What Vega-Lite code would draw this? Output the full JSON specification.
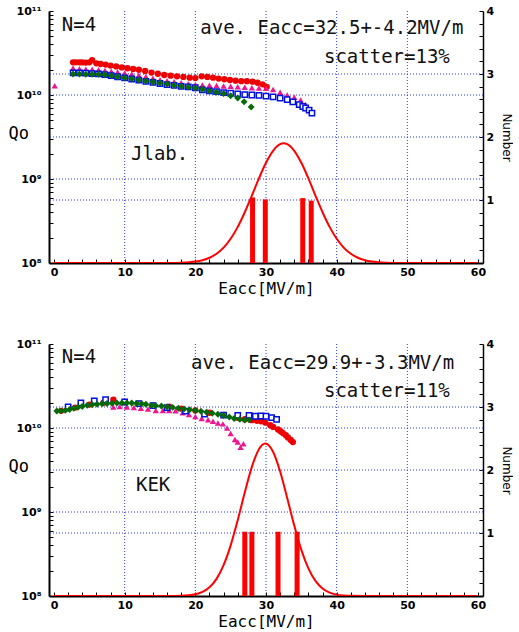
{
  "$schema": "https://vega.github.io/schema/vega-lite/v6.json",
  "background": "white",
  "padding": {"left": 8, "top": 5, "right": 0, "bottom": 0},
  "spacing": 42,
  "config": {
    "view": {"stroke": null},
    "axis": {"domainColor": "black", "tickColor": "black", "labelColor": "black", "titleColor": "black", "grid": false}
  },
  "datasets": {
    "j_r": [{"E":2.7,"Q":2.45e10},{"E":3.1,"Q":2.45e10},{"E":3.6,"Q":2.45e10},{"E":4.0,"Q":2.44e10},{"E":4.5,"Q":2.43e10},{"E":5.0,"Q":2.45e10},{"E":5.4,"Q":2.6e10},{"E":6.0,"Q":2.38e10},{"E":6.6,"Q":2.34e10},{"E":7.3,"Q":2.3e10},{"E":8.0,"Q":2.24e10},{"E":8.8,"Q":2.19e10},{"E":9.6,"Q":2.13e10},{"E":10.4,"Q":2.08e10},{"E":11.2,"Q":2.04e10},{"E":12.0,"Q":2.0e10},{"E":12.9,"Q":1.93e10},{"E":13.8,"Q":1.85e10},{"E":14.7,"Q":1.79e10},{"E":15.6,"Q":1.73e10},{"E":16.5,"Q":1.7e10},{"E":17.4,"Q":1.67e10},{"E":18.3,"Q":1.64e10},{"E":19.2,"Q":1.61e10},{"E":20.0,"Q":1.59e10},{"E":20.9,"Q":1.67e10},{"E":21.7,"Q":1.64e10},{"E":22.5,"Q":1.61e10},{"E":23.3,"Q":1.57e10},{"E":24.1,"Q":1.54e10},{"E":24.9,"Q":1.51e10},{"E":25.7,"Q":1.48e10},{"E":26.5,"Q":1.46e10},{"E":27.3,"Q":1.46e10},{"E":28.1,"Q":1.44e10},{"E":28.8,"Q":1.4e10},{"E":29.5,"Q":1.34e10},{"E":30.1,"Q":1.25e10}],
    "j_m": [{"E":0.1,"Q":1.29e10},{"E":2.7,"Q":2.1e10},{"E":3.6,"Q":2.05e10},{"E":4.5,"Q":2.03e10},{"E":5.4,"Q":2.02e10},{"E":6.3,"Q":2.0e10},{"E":7.2,"Q":1.96e10},{"E":8.1,"Q":1.92e10},{"E":9.0,"Q":1.88e10},{"E":10.0,"Q":1.83e10},{"E":11.0,"Q":1.78e10},{"E":12.0,"Q":1.72e10},{"E":13.0,"Q":1.66e10},{"E":14.0,"Q":1.58e10},{"E":15.0,"Q":1.52e10},{"E":16.0,"Q":1.48e10},{"E":17.0,"Q":1.44e10},{"E":18.0,"Q":1.4e10},{"E":19.0,"Q":1.36e10},{"E":20.0,"Q":1.33e10},{"E":21.0,"Q":1.32e10},{"E":22.0,"Q":1.31e10},{"E":23.0,"Q":1.3e10},{"E":24.0,"Q":1.28e10},{"E":25.0,"Q":1.27e10},{"E":26.0,"Q":1.25e10},{"E":27.0,"Q":1.24e10},{"E":28.0,"Q":1.22e10},{"E":29.0,"Q":1.21e10},{"E":30.0,"Q":1.2e10},{"E":31.0,"Q":1.16e10},{"E":32.0,"Q":1.08e10},{"E":33.0,"Q":1.0e10},{"E":34.0,"Q":9.4e9},{"E":34.9,"Q":8.7e9},{"E":35.6,"Q":7.7e9}],
    "j_b": [{"E":2.7,"Q":1.83e10},{"E":3.6,"Q":1.83e10},{"E":4.5,"Q":1.82e10},{"E":5.4,"Q":1.8e10},{"E":6.3,"Q":1.78e10},{"E":7.2,"Q":1.75e10},{"E":8.1,"Q":1.7e10},{"E":9.0,"Q":1.65e10},{"E":10.0,"Q":1.6e10},{"E":11.0,"Q":1.55e10},{"E":12.0,"Q":1.5e10},{"E":13.0,"Q":1.45e10},{"E":14.0,"Q":1.41e10},{"E":15.0,"Q":1.37e10},{"E":16.0,"Q":1.33e10},{"E":17.0,"Q":1.3e10},{"E":18.0,"Q":1.27e10},{"E":19.0,"Q":1.25e10},{"E":20.0,"Q":1.22e10},{"E":21.0,"Q":1.15e10},{"E":22.0,"Q":1.12e10},{"E":23.0,"Q":1.1e10},{"E":24.0,"Q":1.07e10},{"E":25.0,"Q":1.05e10},{"E":26.0,"Q":1.03e10},{"E":27.0,"Q":1.01e10},{"E":28.0,"Q":1.0e10},{"E":29.0,"Q":9.9e9},{"E":30.0,"Q":9.7e9},{"E":31.0,"Q":9.5e9},{"E":32.0,"Q":9.2e9},{"E":33.0,"Q":8.8e9},{"E":33.8,"Q":8.3e9},{"E":34.7,"Q":7.7e9},{"E":35.2,"Q":7.3e9},{"E":35.6,"Q":7.0e9},{"E":36.1,"Q":6.6e9},{"E":36.5,"Q":6.1e9}],
    "j_g": [{"E":2.7,"Q":1.78e10},{"E":3.6,"Q":1.78e10},{"E":4.5,"Q":1.77e10},{"E":5.4,"Q":1.77e10},{"E":6.3,"Q":1.76e10},{"E":7.2,"Q":1.74e10},{"E":8.1,"Q":1.7e10},{"E":9.0,"Q":1.65e10},{"E":10.0,"Q":1.6e10},{"E":11.0,"Q":1.56e10},{"E":12.0,"Q":1.51e10},{"E":13.0,"Q":1.47e10},{"E":14.0,"Q":1.43e10},{"E":15.0,"Q":1.39e10},{"E":16.0,"Q":1.35e10},{"E":17.0,"Q":1.31e10},{"E":18.0,"Q":1.27e10},{"E":19.0,"Q":1.24e10},{"E":20.0,"Q":1.21e10},{"E":21.0,"Q":1.17e10},{"E":22.0,"Q":1.12e10},{"E":23.0,"Q":1.08e10},{"E":24.0,"Q":1.04e10},{"E":25.0,"Q":9.8e9},{"E":26.0,"Q":9.2e9},{"E":26.9,"Q":8.3e9},{"E":27.9,"Q":7.2e9}],
    "k_r": [{"E":1.0,"Q":1.6e10},{"E":3.0,"Q":1.75e10},{"E":5.0,"Q":1.9e10},{"E":7.0,"Q":2.0e10},{"E":8.4,"Q":2.17e10},{"E":10.0,"Q":2.02e10},{"E":12.0,"Q":1.95e10},{"E":14.0,"Q":1.86e10},{"E":16.3,"Q":1.8e10},{"E":18.0,"Q":1.7e10},{"E":20.0,"Q":1.62e10},{"E":22.0,"Q":1.52e10},{"E":24.0,"Q":1.43e10},{"E":26.0,"Q":1.32e10},{"E":27.0,"Q":1.27e10},{"E":28.0,"Q":1.24e10},{"E":28.7,"Q":1.22e10},{"E":29.3,"Q":1.2e10},{"E":29.9,"Q":1.16e10},{"E":30.6,"Q":1.08e10},{"E":31.0,"Q":1.03e10},{"E":31.7,"Q":9.6e9},{"E":32.1,"Q":9.1e9},{"E":32.4,"Q":8.7e9},{"E":32.8,"Q":8.2e9},{"E":33.1,"Q":7.7e9},{"E":33.5,"Q":7.2e9},{"E":33.8,"Q":6.8e9}],
    "k_m": [{"E":8.4,"Q":1.78e10},{"E":9.3,"Q":1.8e10},{"E":10.3,"Q":1.78e10},{"E":11.3,"Q":1.75e10},{"E":12.3,"Q":1.72e10},{"E":13.3,"Q":1.68e10},{"E":14.4,"Q":1.62e10},{"E":15.4,"Q":1.62e10},{"E":16.3,"Q":1.62e10},{"E":17.2,"Q":1.6e10},{"E":18.2,"Q":1.52e10},{"E":19.1,"Q":1.45e10},{"E":20.0,"Q":1.37e10},{"E":20.9,"Q":1.3e10},{"E":21.8,"Q":1.25e10},{"E":22.5,"Q":1.2e10},{"E":23.2,"Q":1.15e10},{"E":23.9,"Q":1.12e10},{"E":24.5,"Q":1.0e10},{"E":25.0,"Q":8.6e9},{"E":25.6,"Q":7.3e9},{"E":26.0,"Q":6.8e9},{"E":26.4,"Q":5.9e9},{"E":26.8,"Q":6.5e9}],
    "k_b": [{"E":2.0,"Q":1.78e10},{"E":3.8,"Q":1.99e10},{"E":5.7,"Q":2.1e10},{"E":7.3,"Q":2.17e10},{"E":10.0,"Q":2.04e10},{"E":12.0,"Q":1.95e10},{"E":14.0,"Q":1.85e10},{"E":16.0,"Q":1.75e10},{"E":18.6,"Q":1.59e10},{"E":21.3,"Q":1.46e10},{"E":24.0,"Q":1.42e10},{"E":26.0,"Q":1.41e10},{"E":27.6,"Q":1.41e10},{"E":28.5,"Q":1.38e10},{"E":29.3,"Q":1.39e10},{"E":30.0,"Q":1.38e10},{"E":30.8,"Q":1.33e10},{"E":31.5,"Q":1.27e10}],
    "k_g": [{"E":0.4,"Q":1.59e10},{"E":1.0,"Q":1.6e10},{"E":1.6,"Q":1.62e10},{"E":2.2,"Q":1.66e10},{"E":2.8,"Q":1.72e10},{"E":3.4,"Q":1.77e10},{"E":4.0,"Q":1.8e10},{"E":4.7,"Q":1.86e10},{"E":5.4,"Q":1.89e10},{"E":6.1,"Q":1.92e10},{"E":6.8,"Q":1.94e10},{"E":7.5,"Q":1.96e10},{"E":8.2,"Q":1.97e10},{"E":8.9,"Q":1.98e10},{"E":9.6,"Q":1.99e10},{"E":10.3,"Q":1.99e10},{"E":11.0,"Q":1.98e10},{"E":11.7,"Q":1.96e10},{"E":12.4,"Q":1.94e10},{"E":13.0,"Q":1.92e10},{"E":13.8,"Q":1.85e10},{"E":14.4,"Q":1.84e10},{"E":15.2,"Q":1.83e10},{"E":16.0,"Q":1.79e10},{"E":16.8,"Q":1.76e10},{"E":17.6,"Q":1.72e10},{"E":18.4,"Q":1.68e10},{"E":19.2,"Q":1.65e10},{"E":20.0,"Q":1.62e10},{"E":20.8,"Q":1.58e10},{"E":21.6,"Q":1.54e10},{"E":22.4,"Q":1.5e10},{"E":23.2,"Q":1.46e10},{"E":24.0,"Q":1.41e10},{"E":24.8,"Q":1.35e10},{"E":25.5,"Q":1.3e10},{"E":26.3,"Q":1.27e10},{"E":27.0,"Q":1.24e10},{"E":27.6,"Q":1.25e10}],
    "j_bars": [{"E":28.1,"N":1.04},{"E":29.9,"N":1.01},{"E":35.2,"N":1.03},{"E":36.4,"N":0.99}],
    "k_bars": [{"E":27.0,"N":1.02},{"E":28.0,"N":1.02},{"E":31.7,"N":1.02},{"E":34.4,"N":1.02}],
    "j_fit": [{"E":0,"N":0},{"E":10,"N":0},{"E":16,"N":0.001},{"E":18,"N":0.005},{"E":20,"N":0.023},{"E":21,"N":0.045},{"E":22,"N":0.083},{"E":23,"N":0.147},{"E":24,"N":0.245},{"E":25,"N":0.385},{"E":26,"N":0.573},{"E":27,"N":0.806},{"E":28,"N":1.07},{"E":29,"N":1.343},{"E":30,"N":1.59},{"E":31,"N":1.78},{"E":32,"N":1.886},{"E":32.5,"N":1.9},{"E":33,"N":1.886},{"E":34,"N":1.78},{"E":35,"N":1.59},{"E":36,"N":1.343},{"E":37,"N":1.07},{"E":38,"N":0.806},{"E":39,"N":0.573},{"E":40,"N":0.385},{"E":41,"N":0.245},{"E":42,"N":0.147},{"E":43,"N":0.083},{"E":44,"N":0.045},{"E":45,"N":0.023},{"E":47,"N":0.005},{"E":49,"N":0.001},{"E":52,"N":0},{"E":60,"N":0}],
    "k_fit": [{"E":0,"N":0},{"E":10,"N":0},{"E":16,"N":0.0005},{"E":18,"N":0.004},{"E":20,"N":0.027},{"E":21,"N":0.064},{"E":22,"N":0.138},{"E":23,"N":0.272},{"E":24,"N":0.49},{"E":25,"N":0.804},{"E":26,"N":1.204},{"E":27,"N":1.645},{"E":28,"N":2.05},{"E":29,"N":2.33},{"E":29.9,"N":2.42},{"E":31,"N":2.29},{"E":32,"N":1.976},{"E":33,"N":1.557},{"E":34,"N":1.118},{"E":35,"N":0.733},{"E":36,"N":0.439},{"E":37,"N":0.239},{"E":38,"N":0.119},{"E":39,"N":0.054},{"E":40,"N":0.022},{"E":41,"N":0.008},{"E":42,"N":0.003},{"E":45,"N":0},{"E":60,"N":0}],
    "j_txt": [{"E":1.1,"Q":6.87e10,"t":"N=4"},{"E":20.7,"Q":6.28e10,"t":"ave. Eacc=32.5+-4.2MV/m"},{"E":38.2,"Q":2.83e10,"t":"scatter=13%"},{"E":10.9,"Q":1.99e9,"t":"Jlab."}],
    "k_txt": [{"E":1.1,"Q":7.0e10,"t":"N=4"},{"E":19.4,"Q":5.95e10,"t":"ave. Eacc=29.9+-3.3MV/m"},{"E":38.2,"Q":2.76e10,"t":"scatter=11%"},{"E":11.6,"Q":2.1e9,"t":"KEK"}],
    "vgrid": [{"E":10},{"E":20},{"E":30},{"E":40},{"E":50}],
    "qgrid": [{"Q":1e9},{"Q":1e10}],
    "ngrid": [{"N":1},{"N":2},{"N":3}]
  },
  "vconcat": [
    {
      "width": 434, "height": 252,
      "resolve": {"scale": {"y": "independent"}, "axis": {"x": "independent", "y": "independent"}},
      "layer": [
        {"layer": [
          {"data": {"name": "vgrid"}, "mark": {"type": "rule", "color": "#2a3ae0", "strokeDash": [1, 2], "strokeWidth": 1},
           "encoding": {"x": {"field": "E", "type": "quantitative", "scale": {"domain": [0, 60], "nice": false, "zero": false},
             "axis": {"orient": "bottom", "values": [0,2,4,6,8,10,12,14,16,18,20,22,24,26,28,30,32,34,36,38,40,42,44,46,48,50,52,54,56,58,60], "labelExpr": "datum.value % 10 === 0 ? format(datum.value, 'd') : ''", "tickSize": -4, "domainWidth": 2, "labelFont": "DejaVu Sans", "labelFontWeight": "bold", "labelFontSize": 11, "labelPadding": 7, "labelOverlap": false, "labelFlush": false, "title": "Eacc[MV/m]", "titleFont": "DejaVu Sans Mono", "titleFontSize": 16, "titleFontWeight": "normal", "titlePadding": 3}}}},
          {"data": {"name": "qgrid"}, "mark": {"type": "rule", "color": "#2a3ae0", "strokeDash": [1, 2], "strokeWidth": 1},
           "encoding": {"y": {"field": "Q", "type": "quantitative", "scale": {"type": "log", "domain": [1e8, 1e11], "nice": false},
             "axis": {"orient": "left", "values": [1e8,2e8,3e8,4e8,5e8,6e8,7e8,8e8,9e8,1e9,2e9,3e9,4e9,5e9,6e9,7e9,8e9,9e9,1e10,2e10,3e10,4e10,5e10,6e10,7e10,8e10,9e10,1e11], "labelExpr": "datum.value === 1e8 ? '10⁸' : datum.value === 1e9 ? '10⁹' : datum.value === 1e10 ? '10¹⁰' : datum.value === 1e11 ? '10¹¹' : ''", "tickSize": -4, "domainWidth": 2, "labelFont": "DejaVu Sans", "labelFontWeight": "bold", "labelFontSize": 11, "labelPadding": 12, "labelOverlap": false, "labelFlush": false, "title": "Qo", "titleFont": "DejaVu Sans Mono", "titleFontSize": 17, "titleFontWeight": "normal", "titleAngle": 0, "titleAlign": "left", "titleBaseline": "middle", "titleX": -41, "titleY": 122}}}}
        ]},
        {"data": {"name": "ngrid"}, "mark": {"type": "rule", "color": "#2a3ae0", "strokeDash": [1, 2], "strokeWidth": 1},
         "encoding": {"y": {"field": "N", "type": "quantitative", "scale": {"domain": [0, 4], "nice": false},
           "axis": {"orient": "right", "values": [0,0.2,0.4,0.6,0.8,1,1.2,1.4,1.6,1.8,2,2.2,2.4,2.6,2.8,3,3.2,3.4,3.6,3.8,4], "labelExpr": "datum.value > 0 && datum.value % 1 === 0 ? format(datum.value, 'd') : ''", "tickSize": -4, "domainWidth": 1.5, "labelFont": "DejaVu Sans", "labelFontWeight": "bold", "labelFontSize": 11, "labelPadding": 7, "labelOverlap": false, "labelFlush": false, "title": "Number", "titleFont": "DejaVu Sans", "titleFontSize": 12, "titleFontWeight": "normal", "titleAngle": 90, "titlePadding": 6}}}},
        {"layer": [
          {"data": {"name": "j_bars"}, "mark": {"type": "bar", "size": 5, "color": "#ff0000"},
           "encoding": {"x": {"field": "E", "type": "quantitative", "scale": {"domain": [0, 60], "nice": false, "zero": false},
             "axis": {"orient": "top", "values": [0,2,4,6,8,10,12,14,16,18,20,22,24,26,28,30,32,34,36,38,40,42,44,46,48,50,52,54,56,58,60], "labels": false, "tickSize": -4, "domainWidth": 1.5, "title": null}},
             "y": {"field": "N", "type": "quantitative", "scale": {"domain": [0, 4], "nice": false}, "axis": null}}},
          {"data": {"name": "j_fit"}, "mark": {"type": "line", "color": "#ff0000", "strokeWidth": 2, "interpolate": "monotone", "clip": true},
           "encoding": {"x": {"field": "E", "type": "quantitative", "scale": {"domain": [0, 60], "nice": false, "zero": false}, "axis": null},
             "y": {"field": "N", "type": "quantitative", "axis": null}}}
        ]},
        {"layer": [
          {"data": {"name": "j_r"}, "mark": {"type": "point", "shape": "circle", "filled": true, "color": "#ee0000", "size": 40, "opacity": 1},
           "encoding": {"x": {"field": "E", "type": "quantitative", "scale": {"domain": [0, 60], "nice": false, "zero": false}, "axis": null},
             "y": {"field": "Q", "type": "quantitative", "scale": {"type": "log", "domain": [1e8, 1e11], "nice": false}, "axis": null}}},
          {"data": {"name": "j_m"}, "mark": {"type": "point", "shape": "triangle-up", "filled": true, "color": "#ee1590", "size": 40, "opacity": 1},
           "encoding": {"x": {"field": "E", "type": "quantitative", "axis": null}, "y": {"field": "Q", "type": "quantitative", "axis": null}}},
          {"data": {"name": "j_b"}, "mark": {"type": "point", "shape": "square", "filled": true, "fill": "white", "stroke": "#0010e0", "strokeWidth": 1.5, "size": 28, "opacity": 1},
           "encoding": {"x": {"field": "E", "type": "quantitative", "axis": null}, "y": {"field": "Q", "type": "quantitative", "axis": null}}},
          {"data": {"name": "j_g"}, "mark": {"type": "point", "shape": "diamond", "filled": true, "color": "#066a0a", "size": 48, "opacity": 1},
           "encoding": {"x": {"field": "E", "type": "quantitative", "axis": null}, "y": {"field": "Q", "type": "quantitative", "axis": null}}},
          {"data": {"name": "j_txt"}, "mark": {"type": "text", "font": "DejaVu Sans Mono", "fontSize": 19, "align": "left", "baseline": "middle", "color": "#111111"},
           "encoding": {"x": {"field": "E", "type": "quantitative", "axis": null}, "y": {"field": "Q", "type": "quantitative", "axis": null}, "text": {"field": "t"}}}
        ]}
      ]
    },
    {
      "width": 434, "height": 252,
      "resolve": {"scale": {"y": "independent"}, "axis": {"x": "independent", "y": "independent"}},
      "layer": [
        {"layer": [
          {"data": {"name": "vgrid"}, "mark": {"type": "rule", "color": "#2a3ae0", "strokeDash": [1, 2], "strokeWidth": 1},
           "encoding": {"x": {"field": "E", "type": "quantitative", "scale": {"domain": [0, 60], "nice": false, "zero": false},
             "axis": {"orient": "bottom", "values": [0,2,4,6,8,10,12,14,16,18,20,22,24,26,28,30,32,34,36,38,40,42,44,46,48,50,52,54,56,58,60], "labelExpr": "datum.value % 10 === 0 ? format(datum.value, 'd') : ''", "tickSize": -4, "domainWidth": 2, "labelFont": "DejaVu Sans", "labelFontWeight": "bold", "labelFontSize": 11, "labelPadding": 7, "labelOverlap": false, "labelFlush": false, "title": "Eacc[MV/m]", "titleFont": "DejaVu Sans Mono", "titleFontSize": 16, "titleFontWeight": "normal", "titlePadding": 3}}}},
          {"data": {"name": "qgrid"}, "mark": {"type": "rule", "color": "#2a3ae0", "strokeDash": [1, 2], "strokeWidth": 1},
           "encoding": {"y": {"field": "Q", "type": "quantitative", "scale": {"type": "log", "domain": [1e8, 1e11], "nice": false},
             "axis": {"orient": "left", "values": [1e8,2e8,3e8,4e8,5e8,6e8,7e8,8e8,9e8,1e9,2e9,3e9,4e9,5e9,6e9,7e9,8e9,9e9,1e10,2e10,3e10,4e10,5e10,6e10,7e10,8e10,9e10,1e11], "labelExpr": "datum.value === 1e8 ? '10⁸' : datum.value === 1e9 ? '10⁹' : datum.value === 1e10 ? '10¹⁰' : datum.value === 1e11 ? '10¹¹' : ''", "tickSize": -4, "domainWidth": 2, "labelFont": "DejaVu Sans", "labelFontWeight": "bold", "labelFontSize": 11, "labelPadding": 12, "labelOverlap": false, "labelFlush": false, "title": "Qo", "titleFont": "DejaVu Sans Mono", "titleFontSize": 17, "titleFontWeight": "normal", "titleAngle": 0, "titleAlign": "left", "titleBaseline": "middle", "titleX": -41, "titleY": 122}}}}
        ]},
        {"data": {"name": "ngrid"}, "mark": {"type": "rule", "color": "#2a3ae0", "strokeDash": [1, 2], "strokeWidth": 1},
         "encoding": {"y": {"field": "N", "type": "quantitative", "scale": {"domain": [0, 4], "nice": false},
           "axis": {"orient": "right", "values": [0,0.2,0.4,0.6,0.8,1,1.2,1.4,1.6,1.8,2,2.2,2.4,2.6,2.8,3,3.2,3.4,3.6,3.8,4], "labelExpr": "datum.value > 0 && datum.value % 1 === 0 ? format(datum.value, 'd') : ''", "tickSize": -4, "domainWidth": 1.5, "labelFont": "DejaVu Sans", "labelFontWeight": "bold", "labelFontSize": 11, "labelPadding": 7, "labelOverlap": false, "labelFlush": false, "title": "Number", "titleFont": "DejaVu Sans", "titleFontSize": 12, "titleFontWeight": "normal", "titleAngle": 90, "titlePadding": 6}}}},
        {"layer": [
          {"data": {"name": "k_bars"}, "mark": {"type": "bar", "size": 5, "color": "#ff0000"},
           "encoding": {"x": {"field": "E", "type": "quantitative", "scale": {"domain": [0, 60], "nice": false, "zero": false},
             "axis": {"orient": "top", "values": [0,2,4,6,8,10,12,14,16,18,20,22,24,26,28,30,32,34,36,38,40,42,44,46,48,50,52,54,56,58,60], "labels": false, "tickSize": -4, "domainWidth": 1.5, "title": null}},
             "y": {"field": "N", "type": "quantitative", "scale": {"domain": [0, 4], "nice": false}, "axis": null}}},
          {"data": {"name": "k_fit"}, "mark": {"type": "line", "color": "#ff0000", "strokeWidth": 2, "interpolate": "monotone", "clip": true},
           "encoding": {"x": {"field": "E", "type": "quantitative", "scale": {"domain": [0, 60], "nice": false, "zero": false}, "axis": null},
             "y": {"field": "N", "type": "quantitative", "axis": null}}}
        ]},
        {"layer": [
          {"data": {"name": "k_r"}, "mark": {"type": "point", "shape": "circle", "filled": true, "color": "#ee0000", "size": 40, "opacity": 1},
           "encoding": {"x": {"field": "E", "type": "quantitative", "scale": {"domain": [0, 60], "nice": false, "zero": false}, "axis": null},
             "y": {"field": "Q", "type": "quantitative", "scale": {"type": "log", "domain": [1e8, 1e11], "nice": false}, "axis": null}}},
          {"data": {"name": "k_m"}, "mark": {"type": "point", "shape": "triangle-up", "filled": true, "color": "#ee1590", "size": 40, "opacity": 1},
           "encoding": {"x": {"field": "E", "type": "quantitative", "axis": null}, "y": {"field": "Q", "type": "quantitative", "axis": null}}},
          {"data": {"name": "k_b"}, "mark": {"type": "point", "shape": "square", "filled": true, "fill": "white", "stroke": "#0010e0", "strokeWidth": 1.5, "size": 28, "opacity": 1},
           "encoding": {"x": {"field": "E", "type": "quantitative", "axis": null}, "y": {"field": "Q", "type": "quantitative", "axis": null}}},
          {"data": {"name": "k_g"}, "mark": {"type": "point", "shape": "diamond", "filled": true, "color": "#066a0a", "size": 48, "opacity": 1},
           "encoding": {"x": {"field": "E", "type": "quantitative", "axis": null}, "y": {"field": "Q", "type": "quantitative", "axis": null}}},
          {"data": {"name": "k_txt"}, "mark": {"type": "text", "font": "DejaVu Sans Mono", "fontSize": 19, "align": "left", "baseline": "middle", "color": "#111111"},
           "encoding": {"x": {"field": "E", "type": "quantitative", "axis": null}, "y": {"field": "Q", "type": "quantitative", "axis": null}, "text": {"field": "t"}}}
        ]}
      ]
    }
  ]
}
